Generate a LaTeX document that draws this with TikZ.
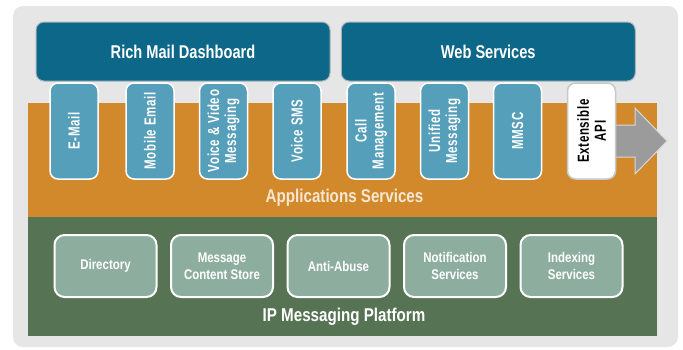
\documentclass[tikz,border=0pt]{standalone}
\usepackage{fontspec}
\newfontfamily\cond[FakeStretch=0.82]{Liberation Sans}
\newfontfamily\condtitle[FakeStretch=0.79]{Liberation Sans}
\newfontfamily\condapp[FakeStretch=0.72,LetterSpace=4]{Liberation Sans}
\definecolor{bggray}{HTML}{E6E6E6}
\definecolor{darkblue}{HTML}{0D6788}
\definecolor{blueborder}{HTML}{A8B4BA}
\definecolor{appblue}{HTML}{559FBA}
\definecolor{orangeband}{HTML}{D2892B}
\definecolor{greenband}{HTML}{567354}
\definecolor{greenbox}{HTML}{8DAE9F}
\definecolor{apiborder}{HTML}{C8C8C8}
\definecolor{arrowgray}{HTML}{9B9B9B}
\definecolor{arrowborder}{HTML}{D8D8D8}
\definecolor{cream}{HTML}{F6E7D3}
\tikzset{
  topbox/.style={draw=blueborder, line width=1pt, fill=darkblue, rounded corners=8pt,
    minimum width=294pt, minimum height=59pt, inner sep=0pt, text=white,
    font={\condtitle\bfseries\fontsize{18.5}{21}\selectfont}},
  appbox/.style={draw=white, line width=1.5pt, fill=appblue, rounded corners=8pt,
    minimum width=96pt, minimum height=48pt, inner sep=0pt, rotate=90, text=white,
    align=center, font={\condapp\bfseries\fontsize{16}{17}\selectfont}},
  apibox/.style={appbox, draw=apiborder, fill=white, text=black},
  platbox/.style={draw=white, line width=2pt, fill=greenbox, rounded corners=10pt,
    minimum width=102pt, minimum height=62pt, inner sep=0pt, text=white,
    align=center, font={\cond\bfseries\fontsize{14}{17}\selectfont}},
  bandlabel/.style={inner sep=0pt, font={\cond\bfseries\fontsize{18.5}{21}\selectfont}}
}
\begin{document}
\begin{tikzpicture}[x=1pt,y=-1pt]
\useasboundingbox (0,0) rectangle (683,349);
% background
\fill[bggray, rounded corners=10pt] (13,6) rectangle (678,347);
\fill[orangeband] (28,103) rectangle (657,217);
\fill[greenband] (28,217) rectangle (657,336);
% top boxes
\node[topbox] (rmd) at (183,51.5) {Rich Mail Dashboard};
\node[topbox] (ws) at (488.25,51.5) {Web Services};
% arrow
\filldraw[fill=arrowgray, draw=arrowborder, line width=1pt]
  (610,125) -- (635,125) -- (635,108) -- (667,141) -- (635,174) -- (635,157) -- (610,157) -- cycle;
% application boxes
\node[appbox] (email) at (74,131) {E-Mail};
\node[appbox] (mobile) at (150,131) {Mobile Email};
\node[appbox] (voicevideo) at (223.5,131) {Voice \& Video\\Messaging};
\node[appbox] (voicesms) at (297,131) {Voice SMS};
\node[appbox] (call) at (371,131) {Call\\Management};
\node[appbox] (unified) at (444.5,131) {Unified\\Messaging};
\node[appbox] (mmsc) at (517.5,131) {MMSC};
\node[apibox] (api) at (591.5,131) {Extensible\\API};
\node[bandlabel, text=cream] (apps) at (344.5,198) {Applications Services};
% platform boxes
\node[platbox] (dir) at (105.5,266) {Directory};
\node[platbox] (mcs) at (222,266) {Message\\Content Store};
\node[platbox] (abuse) at (338.5,266) {Anti-Abuse};
\node[platbox] (notif) at (455,266) {Notification\\Services};
\node[platbox] (index) at (571.5,266) {Indexing\\Services};
\node[bandlabel, text=white] (ipmp) at (344,317) {IP Messaging Platform};
\end{tikzpicture}
\end{document}
